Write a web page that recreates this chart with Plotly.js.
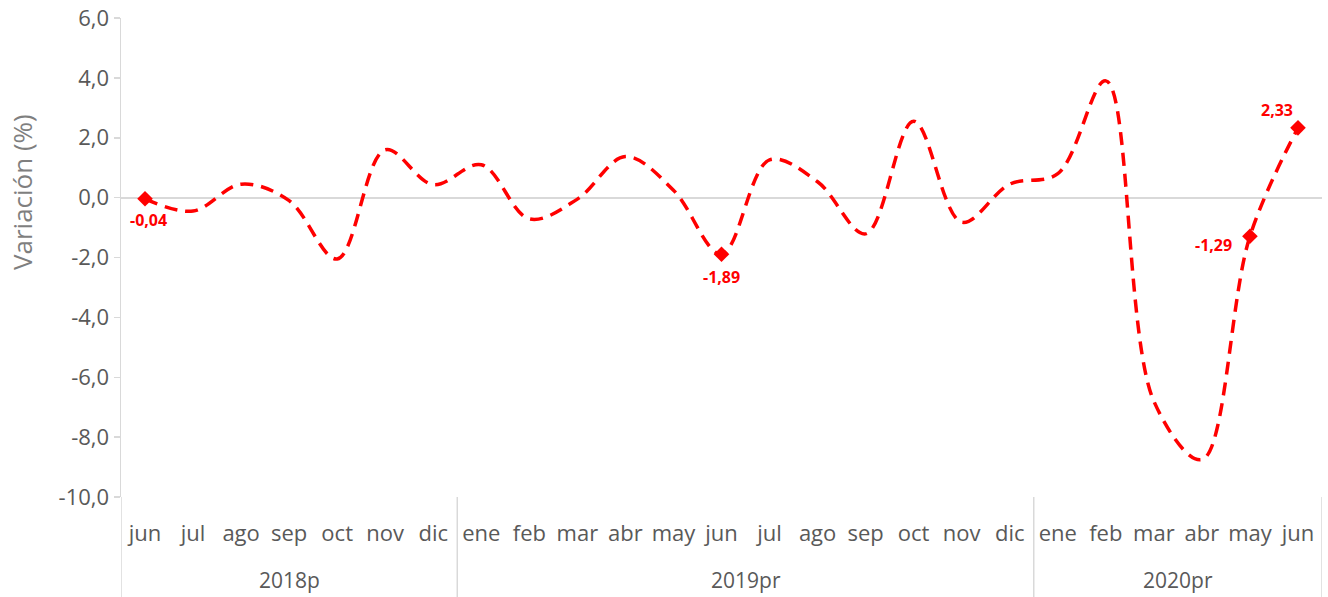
<!DOCTYPE html>
<html>
<head>
<meta charset="utf-8">
<script src="https://cdn.plot.ly/plotly-3.0.1.min.js"></script>
<style>html,body{margin:0;padding:0;background:#fff;}#chart{width:1328px;height:597px;}</style>
</head>
<body>
<div id="chart"></div>
<script>
const months = ['jun','jul','ago','sep','oct','nov','dic','ene','feb','mar','abr','may','jun','jul','ago','sep','oct','nov','dic','ene','feb','mar','abr','may','jun'];
const yearGroups = ['2018p','2019pr','2020pr'];
const yearCounts = [7, 12, 6];
const values = [-0.04,-0.45,0.45,-0.1,-2.05,1.6,0.43,1.1,-0.71,-0.05,1.37,0.25,-1.89,1.26,0.53,-1.21,2.55,-0.82,0.45,0.8,3.9,-6.8,-8.75,-1.29,2.33];
const labelled = [0,12,23,24];
const labelShift = [[3,-21],[0,-23],[-36,-9],[-21,18]];
const yTicks = [6,4,2,0,-2,-4,-6,-8,-10];
const yTitle = 'Variación (%)';

const fmt = v => v.toFixed(2).replace('.', ',');
const fmt1 = v => v.toFixed(1).replace('.', ',');
const idx = months.map((m, i) => i);

const red = '#ff0000';
const grid = '#d9d9d9';
const lineTrace = {
  type: 'scatter', mode: 'lines',
  x: idx, y: values,
  line: {color: red, width: 3.5, dash: '13px,8px', shape: 'spline', smoothing: 1},
  hoverinfo: 'skip', showlegend: false
};
const markTrace = {
  type: 'scatter', mode: 'markers',
  x: labelled, y: labelled.map(i => values[i]),
  marker: {symbol: 'diamond', size: 12, color: red},
  cliponaxis: false, showlegend: false
};

const bounds = [-0.5];
const centres = [];
yearCounts.forEach(c => { const s = bounds[bounds.length - 1]; centres.push(s + c / 2); bounds.push(s + c); });

const plotH = 597 - 18 - 100;
const plotW = 1328 - 121 - 6;
const shapes = bounds.map(b => ({
  type: 'line', xref: 'x', yref: 'paper', x0: b, x1: b, y0: 0, y1: -100 / plotH,
  line: {color: grid, width: 1.5}
}));
const annotations = yearGroups.map((g, k) => ({
  xref: 'x', yref: 'paper', x: centres[k], y: -83 / plotH, yanchor: 'middle', xanchor: 'center',
  text: g, showarrow: false, font: {size: 21, color: '#595959'}
}));
labelled.forEach((i, k) => annotations.push({
  xref: 'x', yref: 'y', x: i, y: values[i], xanchor: 'center', yanchor: 'middle',
  xshift: labelShift[k][0], yshift: labelShift[k][1],
  text: '<b>' + fmt(values[i]) + '</b>', showarrow: false,
  font: {size: 16, color: red}
}));
annotations.push({
  xref: 'paper', yref: 'paper', x: (22 - 121) / plotW, y: (497 - 192) / plotH,
  xanchor: 'center', yanchor: 'middle', textangle: -90, showarrow: false,
  text: yTitle, font: {size: 26, color: '#7f7f7f'}
});

const layout = {
  width: 1328, height: 597,
  margin: {l: 121, r: 6, t: 18, b: 100},
  paper_bgcolor: '#fff', plot_bgcolor: '#fff',
  font: {family: 'Open Sans, sans-serif', size: 22, color: '#595959'},
  showlegend: false,
  shapes: shapes, annotations: annotations,
  xaxis: {
    range: [-0.5, 24.5], autorange: false,
    tickvals: idx, ticktext: months, tickangle: 0,
    showgrid: false, zeroline: false, showline: false,
    ticks: '', ticklabelstandoff: 21,
    tickfont: {size: 22, color: '#595959'}
  },
  yaxis: {
    range: [-10, 6], autorange: false,
    tickvals: yTicks, ticktext: yTicks.map(fmt1),
    showgrid: false,
    zeroline: true, zerolinecolor: grid, zerolinewidth: 2,
    showline: true, linecolor: grid, linewidth: 1.5,
    ticks: 'outside', ticklen: 6, tickcolor: grid, tickwidth: 1.5,
    tickfont: {size: 22, color: '#595959'}
  }
};

Plotly.newPlot('chart', [lineTrace, markTrace], layout, {displayModeBar: false, staticPlot: true});
</script>
</body>
</html>
